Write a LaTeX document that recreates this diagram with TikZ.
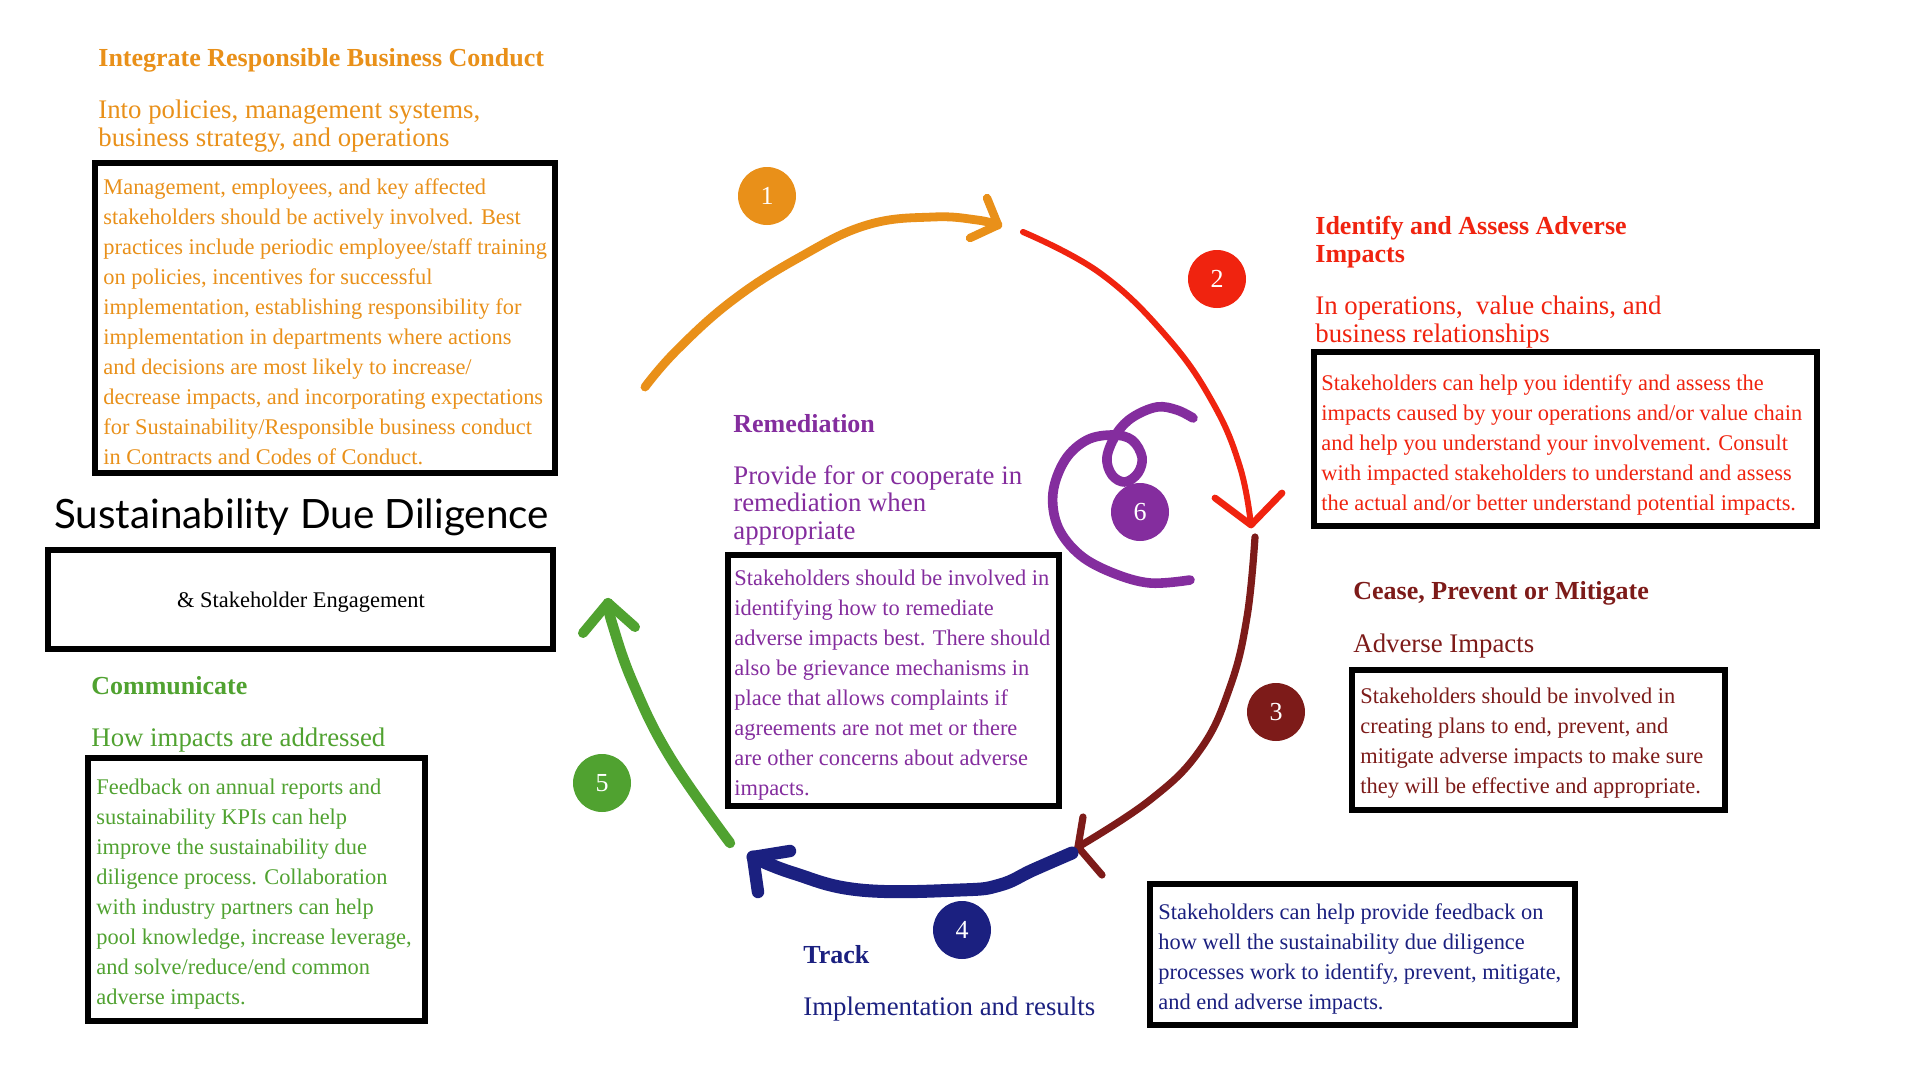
\documentclass[tikz,border=0pt]{standalone}
\usepackage{fontspec}
\setmainfont{Liberation Serif}
\newfontfamily\bannerfont{Lato}
\usetikzlibrary{positioning}

\definecolor{rbcOrange}{HTML}{E99019}
\definecolor{rbcRed}{HTML}{F0230F}
\definecolor{rbcMaroon}{HTML}{7D1B19}
\definecolor{rbcNavy}{HTML}{1B2080}
\definecolor{rbcGreen}{HTML}{50A230}
\definecolor{rbcPurple}{HTML}{842D9E}

\tikzset{
    heading/.style={anchor=base west, inner sep=0pt, align=left, font=\fontsize{13}{14}\selectfont\bfseries},
    subheading/.style={anchor=north west, inner sep=0pt, align=left, font=\fontsize{13.4}{13.8}\selectfont},
    bodybox/.style={draw=black, line width=2.6pt},
    bodytext/.style={anchor=north west, inner sep=0pt, align=left, font=\fontsize{11.2}{15}\selectfont},
    stepdot/.style={circle, minimum size=29pt, inner sep=0pt, text=white, font=\fontsize{13}{13}\selectfont},
    brush/.style={line cap=round, line join=round},
}

\begin{document}
\begin{tikzpicture}[x=0.5pt,y=-0.5pt]
    \fill[white] (0,0) rectangle (1908,1076);
    \useasboundingbox (0,0) rectangle (1908,1076);

    % cycle strokes
    \begin{scope}[brush]
        \draw[rbcOrange, line width=4.4pt] plot[smooth, tension=0.7] coordinates {(645,387) (677,350) (733,300) (800,257) (867,225) (933,217) (977,220) (998,225)};
        \draw[rbcOrange, line width=4.2pt] (987,198) -- (998,225) -- (970,238);

        \draw[rbcRed, line width=3pt] plot[smooth, tension=0.7] coordinates {(1023,232) (1100,273) (1167,337) (1213,403) (1240,467) (1251,525)};
        \draw[rbcRed, line width=3.4pt] (1215,498) -- (1251,525) -- (1282,493);

        \draw[rbcMaroon, line width=3.6pt] plot[smooth, tension=0.7] coordinates {(1255,537) (1247,617) (1230,687) (1200,750) (1150,800) (1078,847)};
        \draw[rbcMaroon, line width=3.6pt] (1083,817) -- (1078,847) -- (1102,875);

        \draw[rbcNavy, line width=6.5pt] plot[smooth, tension=0.7] coordinates {(1072,853) (1033,870) (1000,885) (960,890) (860,890) (793,873) (753,857)};
        \draw[rbcNavy, line width=6.2pt] (790,851) -- (753,857) -- (758,892);

        \draw[rbcGreen, line width=5.2pt] plot[smooth, tension=0.7] coordinates {(730,843) (670,757) (633,683) (612,623) (608,603)};
        \draw[rbcGreen, line width=5pt] (583,633) -- (608,603) -- (635,627);

        \draw[rbcPurple, line width=4.8pt] plot[smooth, tension=0.6] coordinates {(1193,418) (1177,410) (1157,407) (1133,417) (1117,433) (1107,457) (1112,475) (1125,482) (1138,473) (1142,457) (1132,440) (1113,435) (1087,440) (1065,460) (1053,493) (1058,527) (1080,555) (1113,573) (1150,583) (1190,580)};
    \end{scope}

    \foreach \n/\pos/\col in {1/{767,196}/rbcOrange, 2/{1217,279}/rbcRed, 3/{1276,712}/rbcMaroon, 4/{962,930}/rbcNavy, 5/{602,783}/rbcGreen, 6/{1140,512}/rbcPurple}{%
        \node[stepdot, fill=\col] (step\n) at (\pos) {\n};
    }

    % integrate
    \node[heading, text=rbcOrange] (integrateTitle) at (98,66) {Integrate Responsible Business Conduct};
    \node[subheading, text=rbcOrange] (integrateSub) at (98,100) {Into policies, management systems,\\business strategy, and operations};
    \draw[bodybox] (95,163) rectangle (555,473);
    \node[bodytext, text=rbcOrange] (integrateText) at (103,178) {Management, employees, and key affected\\stakeholders should be actively involved. Best\\practices include periodic employee/staff training\\on policies, incentives for successful\\implementation, establishing responsibility for\\implementation in departments where actions\\and decisions are most likely to increase/\\decrease impacts, and incorporating expectations\\for Sustainability/Responsible business conduct\\in Contracts and Codes of Conduct.};

    % identify
    \node[heading, anchor=north west, text=rbcRed] (identifyTitle) at (1315,216) {Identify and Assess Adverse\\Impacts};
    \node[subheading, font=\fontsize{13.4}{14}\selectfont, text=rbcRed] (identifySub) at (1315,296) {In operations,\ \ value chains, and\\business relationships};
    \draw[bodybox] (1314,352) rectangle (1817,526);
    \node[bodytext, text=rbcRed] (identifyText) at (1321,374) {Stakeholders can help you identify and assess the\\impacts caused by your operations and/or value chain\\and help you understand your involvement. Consult\\with impacted stakeholders to understand and assess\\the actual and/or better understand potential impacts.};

    % cease
    \node[heading, text=rbcMaroon] (ceaseTitle) at (1353,599) {Cease, Prevent or Mitigate};
    \node[subheading, anchor=base west, text=rbcMaroon] (ceaseSub) at (1353,652) {Adverse Impacts};
    \draw[bodybox] (1352,670) rectangle (1725,810);
    \node[bodytext, text=rbcMaroon] (ceaseText) at (1360,688) {Stakeholders should be involved in\\creating plans to end, prevent, and\\mitigate adverse impacts to make sure\\they will be effective and appropriate.};

    % track
    \node[heading, text=rbcNavy] (trackTitle) at (803,963) {Track};
    \node[subheading, anchor=base west, text=rbcNavy] (trackSub) at (803,1015) {Implementation and results};
    \draw[bodybox] (1150,884) rectangle (1575,1025);
    \node[bodytext, text=rbcNavy] (trackText) at (1158,903) {Stakeholders can help provide feedback on\\how well the sustainability due diligence\\processes work to identify, prevent, mitigate,\\and end adverse impacts.};

    % communicate
    \node[heading, text=rbcGreen] (commTitle) at (91,694) {Communicate};
    \node[subheading, anchor=base west, text=rbcGreen] (commSub) at (91,746) {How impacts are addressed};
    \draw[bodybox] (88,758) rectangle (425,1021);
    \node[bodytext, text=rbcGreen] (commText) at (96,779) {Feedback on annual reports and\\sustainability KPIs can help\\improve the sustainability due\\diligence process. Collaboration\\with industry partners can help\\pool knowledge, increase leverage,\\and solve/reduce/end common\\adverse impacts.};

    % remediation
    \node[heading, text=rbcPurple] (remedyTitle) at (733,432) {Remediation};
    \node[subheading, text=rbcPurple] (remedySub) at (733,465) {Provide for or cooperate in\\remediation when\\appropriate};
    \draw[bodybox] (728,555) rectangle (1059,806);
    \node[bodytext, text=rbcPurple] (remedyText) at (734,570) {Stakeholders should be involved in\\identifying how to remediate\\adverse impacts best. There should\\also be grievance mechanisms in\\place that allows complaints if\\agreements are not met or there\\are other concerns about adverse\\impacts.};

    % banner
    \node[anchor=base west, inner sep=0pt, font=\bannerfont\fontsize{20.2}{22}\selectfont] (banner) at (54,528) {Sustainability Due Diligence};
    \draw[bodybox] (48,550) rectangle (553,649);
    \node[anchor=base, inner sep=0pt, font=\fontsize{11.2}{15}\selectfont] (bannerSub) at (301,607) {\& Stakeholder Engagement};
\end{tikzpicture}
\end{document}
